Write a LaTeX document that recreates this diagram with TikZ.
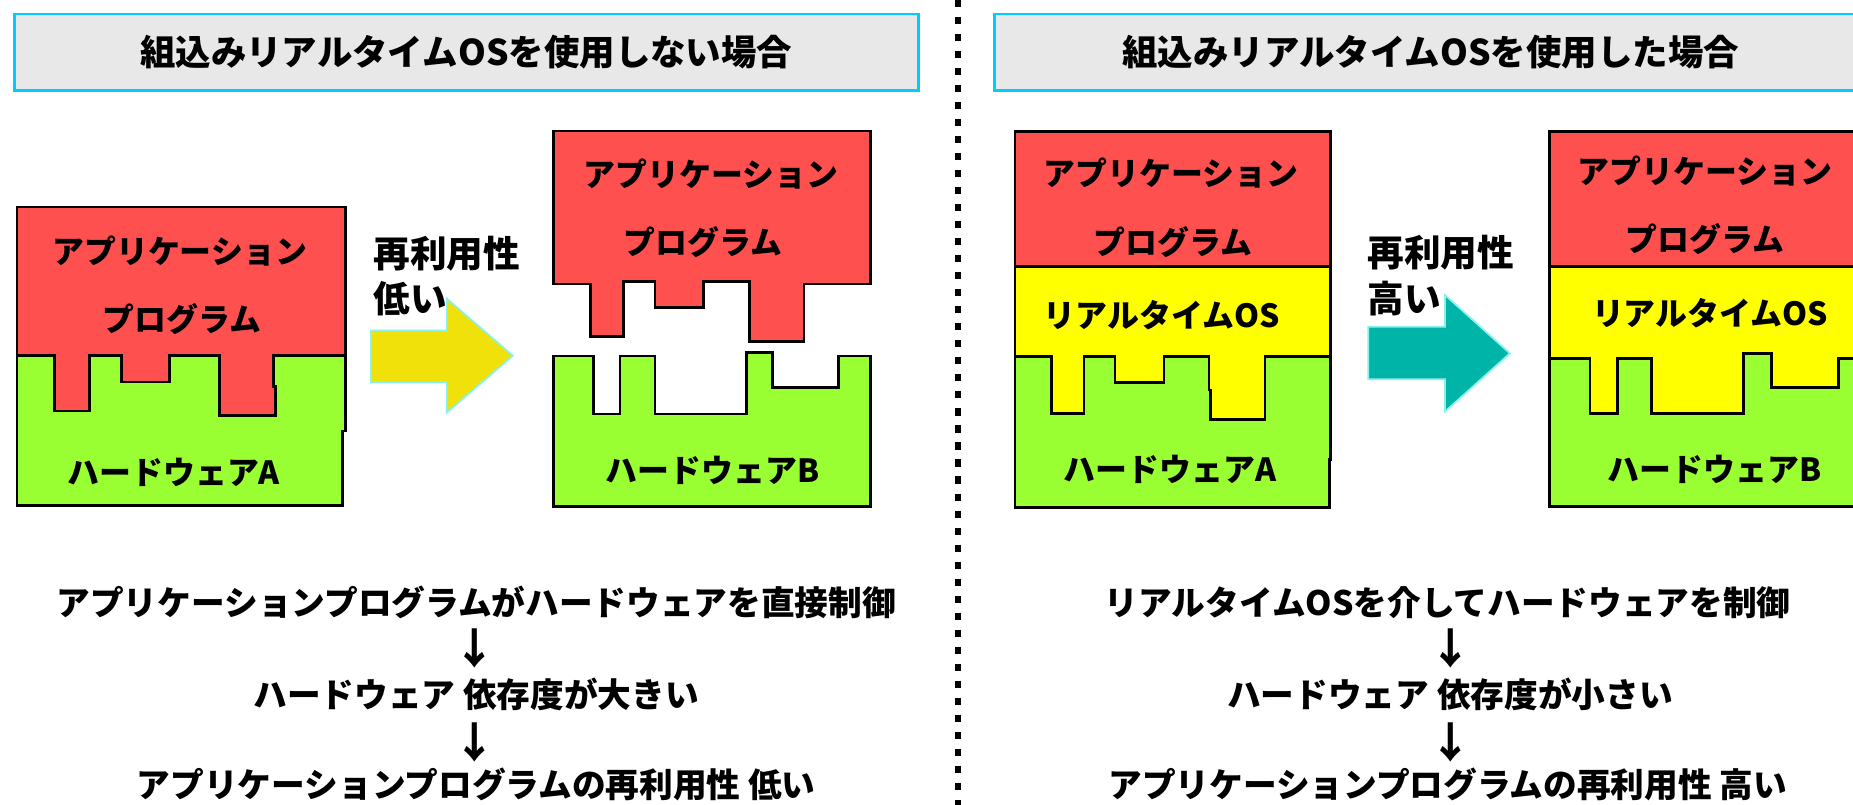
\documentclass[tikz,border=0pt]{standalone}
\usepackage{fontspec}
\newfontfamily\jp{Noto Sans CJK JP}
\definecolor{appred}{RGB}{255,80,80}
\definecolor{hwgreen}{RGB}{153,255,51}
\definecolor{osyellow}{RGB}{255,255,0}
\definecolor{arrowyellow}{RGB}{240,225,10}
\definecolor{arrowteal}{RGB}{0,180,168}
\definecolor{arrowedge}{RGB}{140,240,235}
\definecolor{hdrfill}{RGB}{232,232,232}
\definecolor{hdrborder}{RGB}{0,204,255}
\begin{document}
\begin{tikzpicture}[x=1pt,y=-1pt,
  layer/.style={draw=black, line width=2.2pt, line join=miter},
  hdr/.style={draw=hdrborder, fill=hdrfill, line width=2.4pt, inner sep=0,
    minimum height=65pt, font=\jp\bfseries\fontsize{30}{32}\selectfont},
  blocktext/.style={inner sep=0, font=\jp\bfseries\fontsize{27}{30}\selectfont},
  lbl/.style={inner sep=0, anchor=west, font=\jp\bfseries\fontsize{31}{34}\selectfont},
  bottomtext/.style={inner sep=0, font=\jp\bfseries\fontsize{28.5}{32}\selectfont},
  downarrow/.style={inner sep=0, font=\jp\bfseries\fontsize{36}{38}\selectfont},
  bigarrow/.style={draw=arrowedge, line width=1.5pt, line join=miter},
  divider/.style={line width=5pt, dash pattern=on 6pt off 8.4pt}
]
\useasboundingbox (0,0) rectangle (1568,681);
\clip (0,0) rectangle (1568,681);

% headers
\node[hdr, minimum width=764.9pt] (hdrL) at (394.5,44.3) {組込みリアルタイムOSを使用しない場合};
\node[hdr, minimum width=738.7pt] (hdrR) at (1210.6,44.3) {組込みリアルタイムOSを使用した場合};

% divider
\draw[divider] (810.5,0) -- (810.5,681);

% ---- Block A (no OS, hardware A)
\filldraw[layer, fill=hwgreen] (14.5,301) -- (292.5,301) -- (292.5,364.6) -- (290,364.6) -- (290,427.6) -- (14.5,427.6) -- cycle;
\filldraw[layer, fill=appred] (14.5,175) -- (292.5,175) -- (292.5,301) -- (231.2,301) -- (231.2,326.8) -- (233.3,326.8) -- (233.3,351.4) -- (185.5,351.4) -- (185.5,301) -- (143.5,301) -- (143.5,323.4) -- (103,323.4) -- (103,301) -- (75.5,301) -- (75.5,347.8) -- (46,347.8) -- (46,301) -- (14.5,301) -- cycle;
\node[blocktext] (appA1) at (152,212.2) {アプリケーション};
\node[blocktext] (appA2) at (154,270) {プログラム};
\node[blocktext] (hwA) at (147,399.8) {ハードウェアA};

% ---- Block B (no OS, hardware B)
\filldraw[layer, fill=appred] (468.2,110.9) -- (736.8,110.9) -- (736.8,240.3) -- (680.3,240.3) -- (680.3,289.1) -- (634.1,289.1) -- (634.1,238.3) -- (595.1,238.3) -- (595.1,260.1) -- (554.2,260.1) -- (554.2,238.3) -- (527.4,238.3) -- (527.4,284.9) -- (499.8,284.9) -- (499.8,240.3) -- (468.2,240.3) -- cycle;
\filldraw[layer, fill=hwgreen] (468.2,301.2) -- (502,301.2) -- (502,350.3) -- (524.6,350.3) -- (524.6,301.2) -- (554.2,301.2) -- (554.2,350.3) -- (631.8,350.3) -- (631.8,298.4) -- (653.8,298.4) -- (653.8,327.8) -- (709.4,327.8) -- (709.4,301.2) -- (736.8,301.2) -- (736.8,428.7) -- (468.2,428.7) -- cycle;
\node[blocktext] (appB1) at (601.5,147) {アプリケーション};
\node[blocktext] (appB2) at (595,204.5) {プログラム};
\node[blocktext] (hwB) at (603,397.7) {ハードウェアB};

% ---- Block C (OS, hardware A)
\filldraw[layer, fill=hwgreen] (858.9,301.8) -- (1126,301.8) -- (1126,389) -- (1124.8,389) -- (1124.8,429.5) -- (858.9,429.5) -- cycle;
\filldraw[layer, fill=osyellow] (858.9,225.6) -- (1126,225.6) -- (1126,301.8) -- (1070.4,301.8) -- (1070.4,354.8) -- (1024.4,354.8) -- (1024.4,330) -- (1023,330) -- (1023,301.8) -- (985,301.8) -- (985,323.8) -- (943.5,323.8) -- (943.5,301.8) -- (917.3,301.8) -- (917.3,349.8) -- (889.9,349.8) -- (889.9,301.8) -- (858.9,301.8) -- cycle;
\filldraw[layer, fill=appred] (858.9,111.4) rectangle (1126,225.6);
\node[blocktext] (appC1) at (990.8,146.7) {アプリケーション};
\node[blocktext] (appC2) at (992.8,204.5) {プログラム};
\node[blocktext] (osC) at (983,266.5) {リアルタイムOS};
\node[blocktext] (hwC) at (990,397) {ハードウェアA};

% ---- Block D (OS, hardware B)
\filldraw[layer, fill=hwgreen] (1311,299) -- (1580,299) -- (1580,428.7) -- (1311,428.7) -- cycle;
\filldraw[layer, fill=osyellow] (1311,225.6) -- (1580,225.6) -- (1580,303.2) -- (1555.5,303.2) -- (1555.5,327.8) -- (1499.1,327.8) -- (1499.1,299) -- (1475.1,299) -- (1475.1,349.8) -- (1397.6,349.8) -- (1397.6,303.2) -- (1368.5,303.2) -- (1368.5,349.8) -- (1345.4,349.8) -- (1345.4,303.2) -- (1311,303.2) -- cycle;
\filldraw[layer, fill=appred] (1311,111.4) rectangle (1580,225.6);
\node[blocktext] (appD1) at (1442.7,144.5) {アプリケーション};
\node[blocktext] (appD2) at (1442.7,202) {プログラム};
\node[blocktext] (osD) at (1447,265) {リアルタイムOS};
\node[blocktext] (hwD) at (1450.8,397) {ハードウェアB};

% ---- big arrows and labels
\filldraw[bigarrow, fill=arrowyellow] (314,279.7) -- (378,279.7) -- (378,252.6) -- (434,301) -- (378,349.2) -- (378,323.4) -- (314,323.4) -- cycle;
\filldraw[bigarrow, fill=arrowteal] (1157.8,276.4) -- (1222.7,276.4) -- (1222.7,249.6) -- (1277.7,299) -- (1222.7,348.3) -- (1222.7,321) -- (1157.8,321) -- cycle;
\node[lbl] (reuseL) at (316,214.5) {再利用性};
\node[lbl] (lowL) at (316,252.4) {低い};
\node[lbl] (reuseR) at (1157,213.7) {再利用性};
\node[lbl] (highR) at (1157,253) {高い};

% ---- bottom explanations
\node[bottomtext] (l1) at (403,509.7) {アプリケーションプログラムがハードウェアを直接制御};
\node[downarrow] (la1) at (402,549) {↓};
\node[bottomtext] (l2) at (403,588) {ハードウェア 依存度が大きい};
\node[downarrow] (la2) at (402,628) {↓};
\node[bottomtext] (l3) at (403,663.6) {アプリケーションプログラムの再利用性 低い};

\node[bottomtext] (r1) at (1225,509.7) {リアルタイムOSを介してハードウェアを制御};
\node[downarrow] (ra1) at (1228,549) {↓};
\node[bottomtext] (r2) at (1227,588) {ハードウェア 依存度が小さい};
\node[downarrow] (ra2) at (1228,628) {↓};
\node[bottomtext] (r3) at (1225,663.6) {アプリケーションプログラムの再利用性 高い};
\end{tikzpicture}
\end{document}
